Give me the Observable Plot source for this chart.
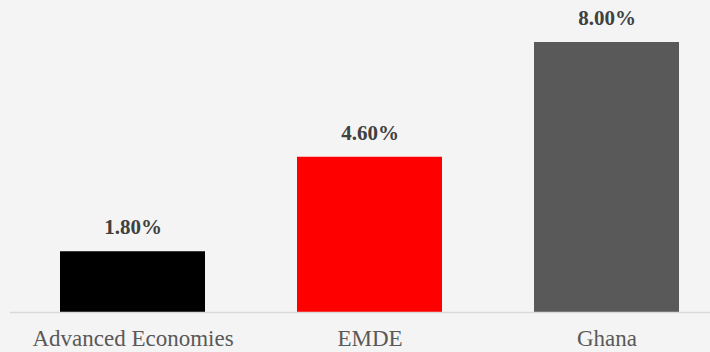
<!DOCTYPE html>
<html>
<head>
<meta charset="utf-8">
<script src="https://cdn.jsdelivr.net/npm/d3@7"></script>
<script src="https://cdn.jsdelivr.net/npm/@observablehq/plot@0.6"></script>
<style>
  html, body { margin: 0; padding: 0; background: #f4f4f4; }
  #chart svg { display: block; }
</style>
</head>
<body>
<div id="chart"></div>
<script>
const categories = ["Advanced Economies", "EMDE", "Ghana"];
const values = [1.8, 4.6, 8.0];
const colors = ["#000000", "#ff0000", "#595959"];

const data = categories.map((c, i) => ({cat: c, value: values[i], color: colors[i]}));
const serif = "'Liberation Serif', 'DejaVu Serif', serif";

const chart = Plot.plot({
  width: 710,
  height: 352,
  marginTop: 42,
  marginBottom: 40,
  marginLeft: 10,
  marginRight: 0,
  style: {background: "#f4f4f4", fontFamily: serif},
  x: {domain: categories, paddingInner: 0.388, paddingOuter: 0.165, align: 0.62, axis: null},
  y: {domain: [0, 8], axis: null},
  marks: [
    Plot.barY(data, {x: "cat", y: "value", fill: "color"}),
    Plot.ruleY([0], {stroke: "#d9d9d9", strokeWidth: 1.5}),
    Plot.text(data, {x: "cat", y: "value", text: d => d.value.toFixed(2) + "%", dy: -24,
      fontWeight: "bold", fontSize: 21, fill: "#404040", fontFamily: serif}),
    Plot.text(data, {x: "cat", y: () => 0, text: "cat", dy: 26, fontSize: 23,
      fill: "#595959", fontFamily: serif})
  ]
});
document.getElementById("chart").appendChild(chart);
</script>
</body>
</html>
